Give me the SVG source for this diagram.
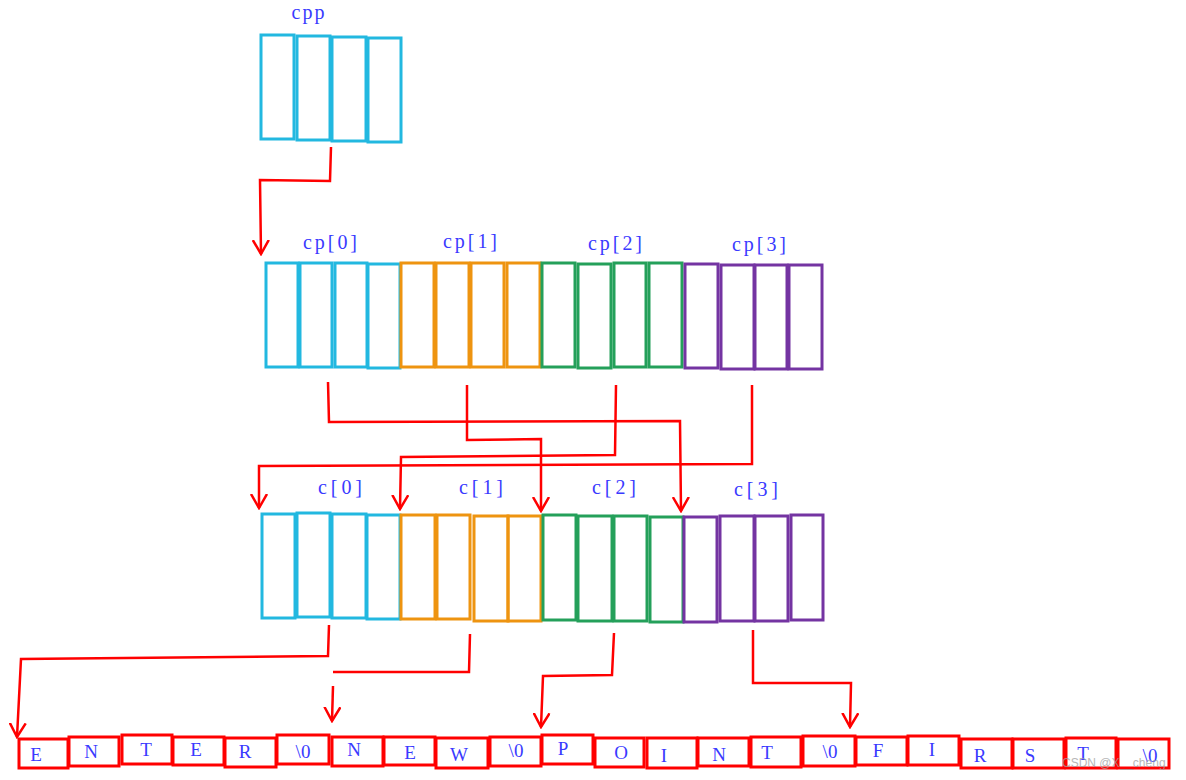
<svg xmlns="http://www.w3.org/2000/svg" width="1186" height="780" viewBox="0 0 1186 780">
<style>
.cy{fill:none;stroke:#22b8e0;stroke-width:3}
.or{fill:none;stroke:#ee9410;stroke-width:3}
.gr{fill:none;stroke:#24a05a;stroke-width:3}
.pu{fill:none;stroke:#7434a2;stroke-width:3}
.rd{fill:none;stroke:#ff0000;stroke-width:3}
.lbl{font-family:"Liberation Serif",serif;font-size:20px;fill:#3a3aff;text-anchor:middle}
.ch{font-family:"Liberation Serif",serif;font-size:19px;fill:#3a3aff;text-anchor:middle}
.ln{fill:none;stroke:#ff0000;stroke-width:2.5}
.wm{font-family:"Liberation Sans",sans-serif;font-size:12px;fill:#a0a0a0;opacity:0.75}
</style>
<defs>
<marker id="arr" viewBox="0 0 16 18" refX="14" refY="9" markerWidth="16" markerHeight="18" markerUnits="userSpaceOnUse" orient="auto">
<path d="M0,1 L14,9 L0,17" fill="none" stroke="#ff0000" stroke-width="2.5"/>
</marker>
</defs>
<rect width="1186" height="780" fill="#ffffff"/>

<g id="cpp">
<text class="lbl" x="308" y="19" textLength="33" lengthAdjust="spacing">cpp</text>
<rect class="cy" x="261" y="35" width="33" height="104"/>
<rect class="cy" x="297" y="36" width="33" height="104"/>
<rect class="cy" x="332" y="37" width="34" height="104"/>
<rect class="cy" x="368" y="38" width="33" height="104"/>
</g>

<g id="cp">
<text class="lbl" x="330" y="249" textLength="54" lengthAdjust="spacing">cp[0]</text>
<text class="lbl" x="470" y="248" textLength="54" lengthAdjust="spacing">cp[1]</text>
<text class="lbl" x="615" y="250" textLength="54" lengthAdjust="spacing">cp[2]</text>
<text class="lbl" x="759" y="251" textLength="54" lengthAdjust="spacing">cp[3]</text>
<rect class="cy" x="266" y="263" width="32" height="104"/>
<rect class="cy" x="300" y="263" width="32" height="104"/>
<rect class="cy" x="335" y="263" width="32" height="104"/>
<rect class="cy" x="368" y="264" width="32" height="104"/>
<rect class="or" x="401" y="263" width="33" height="104"/>
<rect class="or" x="436" y="263" width="33" height="104"/>
<rect class="or" x="471" y="263" width="33" height="104"/>
<rect class="or" x="507" y="263" width="33" height="104"/>
<rect class="gr" x="542" y="263" width="33" height="104"/>
<rect class="gr" x="578" y="264" width="33" height="104"/>
<rect class="gr" x="614" y="263" width="32" height="104"/>
<rect class="gr" x="649" y="263" width="33" height="104"/>
<rect class="pu" x="685" y="264" width="33" height="104"/>
<rect class="pu" x="721" y="265" width="33" height="104"/>
<rect class="pu" x="755" y="265" width="32" height="104"/>
<rect class="pu" x="789" y="265" width="33" height="104"/>
</g>

<g id="c">
<text class="lbl" x="340" y="494" textLength="44" lengthAdjust="spacing">c[0]</text>
<text class="lbl" x="481" y="494" textLength="44" lengthAdjust="spacing">c[1]</text>
<text class="lbl" x="614" y="494" textLength="44" lengthAdjust="spacing">c[2]</text>
<text class="lbl" x="756" y="496" textLength="44" lengthAdjust="spacing">c[3]</text>
<rect class="cy" x="262" y="514" width="33" height="104"/>
<rect class="cy" x="297" y="513" width="33" height="104"/>
<rect class="cy" x="332" y="514" width="34" height="104"/>
<rect class="cy" x="367" y="515" width="33" height="104"/>
<rect class="or" x="401" y="515" width="34" height="104"/>
<rect class="or" x="437" y="515" width="33" height="104"/>
<rect class="or" x="474" y="516" width="34" height="105"/>
<rect class="or" x="508" y="516" width="33" height="105"/>
<rect class="gr" x="543" y="515" width="33" height="105"/>
<rect class="gr" x="578" y="516" width="34" height="105"/>
<rect class="gr" x="614" y="516" width="33" height="105"/>
<rect class="gr" x="650" y="517" width="33" height="105"/>
<rect class="pu" x="684" y="517" width="33" height="105"/>
<rect class="pu" x="720" y="516" width="34" height="105"/>
<rect class="pu" x="755" y="516" width="33" height="105"/>
<rect class="pu" x="791" y="515" width="32" height="105"/>
</g>

<g id="str">
<rect class="rd" x="19" y="739" width="49" height="29"/>
<rect class="rd" x="69" y="737" width="50" height="29"/>
<rect class="rd" x="122" y="735" width="50" height="29"/>
<rect class="rd" x="173" y="737" width="51" height="28"/>
<rect class="rd" x="225" y="738" width="51" height="29"/>
<rect class="rd" x="277" y="735" width="52" height="29"/>
<rect class="rd" x="332" y="737" width="51" height="29"/>
<rect class="rd" x="384" y="737" width="51" height="28"/>
<rect class="rd" x="436" y="738" width="52" height="30"/>
<rect class="rd" x="490" y="737" width="51" height="29"/>
<rect class="rd" x="542" y="735" width="51" height="29"/>
<rect class="rd" x="595" y="738" width="49" height="29"/>
<rect class="rd" x="647" y="738" width="50" height="30"/>
<rect class="rd" x="698" y="738" width="51" height="28"/>
<rect class="rd" x="751" y="737" width="50" height="30"/>
<rect class="rd" x="803" y="736" width="52" height="30"/>
<rect class="rd" x="856" y="737" width="51" height="28"/>
<rect class="rd" x="908" y="736" width="51" height="29"/>
<rect class="rd" x="961" y="739" width="51" height="29"/>
<rect class="rd" x="1013" y="739" width="51" height="29"/>
<rect class="rd" x="1066" y="738" width="50" height="30"/>
<rect class="rd" x="1118" y="739" width="51" height="29"/>
<text class="ch" x="36" y="761">E</text>
<text class="ch" x="91" y="758">N</text>
<text class="ch" x="146" y="756">T</text>
<text class="ch" x="196" y="756">E</text>
<text class="ch" x="245" y="758">R</text>
<text class="ch" x="303" y="758">\0</text>
<text class="ch" x="354" y="756">N</text>
<text class="ch" x="410" y="759">E</text>
<text class="ch" x="459" y="761">W</text>
<text class="ch" x="516" y="757">\0</text>
<text class="ch" x="563" y="755">P</text>
<text class="ch" x="621" y="759">O</text>
<text class="ch" x="664" y="762">I</text>
<text class="ch" x="719" y="761">N</text>
<text class="ch" x="767" y="759">T</text>
<text class="ch" x="830" y="758">\0</text>
<text class="ch" x="878" y="757">F</text>
<text class="ch" x="932" y="756">I</text>
<text class="ch" x="980" y="762">R</text>
<text class="ch" x="1030" y="762">S</text>
<text class="ch" x="1083" y="760">T</text>
<text class="ch" x="1150" y="762">\0</text>
</g>

<g id="connectors">
<path class="ln" d="M331,147 L330,181 L260,180 L261,254" marker-end="url(#arr)"/>
<path class="ln" d="M328,382 L329,422 L680,421 L681,511" marker-end="url(#arr)"/>
<path class="ln" d="M467,385 L467,440 L541,439 L541,511" marker-end="url(#arr)"/>
<path class="ln" d="M616,385 L615,455 L401,457 L400,509" marker-end="url(#arr)"/>
<path class="ln" d="M752,385 L752,464 L259,466 L259,508" marker-end="url(#arr)"/>
<path class="ln" d="M329,625 L328,656 L21,659 L17,737" marker-end="url(#arr)"/>
<path class="ln" d="M470,634 L469,672 L333,672"/>
<path class="ln" d="M333,686 L332,721" marker-end="url(#arr)"/>
<path class="ln" d="M614,633 L612,675 L543,676 L541,727" marker-end="url(#arr)"/>
<path class="ln" d="M753,630 L753,683 L851,683 L850,727" marker-end="url(#arr)"/>
</g>

<text class="wm" x="1062" y="767">CSDN @X__cheng</text>
</svg>
